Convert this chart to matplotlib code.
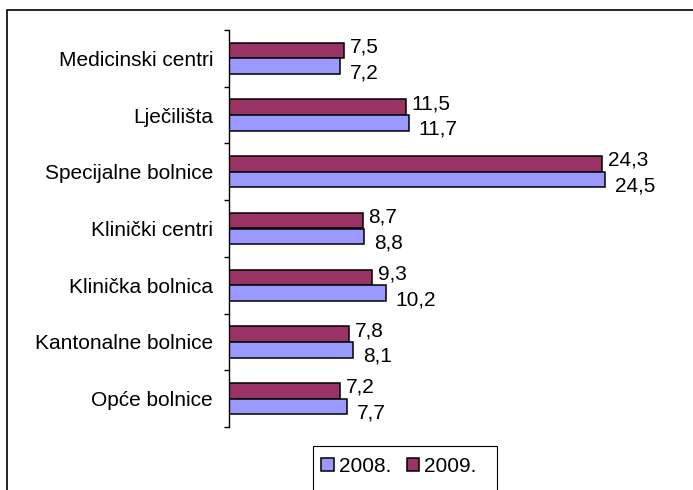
import matplotlib
matplotlib.use("Agg")
import matplotlib.pyplot as plt
from matplotlib.patches import Rectangle
import numpy as np

plt.rcParams['font.family'] = ['Liberation Sans', 'DejaVu Sans']

# Categories listed top to bottom
categories = ["Medicinski centri", "Lječilišta", "Specijalne bolnice",
              "Klinički centri", "Klinička bolnica", "Kantonalne bolnice",
              "Opće bolnice"]
values_2008 = [7.2, 11.7, 24.5, 8.8, 10.2, 8.1, 7.7]
values_2009 = [7.5, 11.5, 24.3, 8.7, 9.3, 7.8, 7.2]
series_labels = ["2008.", "2009."]

color_2008 = "#9999FF"
color_2009 = "#993366"

W, H = 693, 490
fig = plt.figure(figsize=(W / 100, H / 100), dpi=100)

# outer chart frame
fig.patches.append(Rectangle((7 / W, -0.1), 1.2, 1 - 10 / H + 0.1,
                             transform=fig.transFigure, fill=False,
                             edgecolor="black", linewidth=1.2))

ax_left, ax_top, ax_bottom = 229 / W, 1 - 30 / H, 1 - 427 / H
ax = fig.add_axes([ax_left, ax_bottom, 430 / W, ax_top - ax_bottom])
ax.set_facecolor("none")

n = len(categories)
y = np.arange(n)
h = 0.275
ax.barh(y - h / 2, values_2009, height=h, color=color_2009,
        edgecolor="black", linewidth=1.1, label=series_labels[1])
ax.barh(y + h / 2, values_2008, height=h, color=color_2008,
        edgecolor="black", linewidth=1.1, label=series_labels[0])

ax.set_xlim(0, 28)
ax.set_ylim(n - 0.5, -0.5)

fs = 15
fmt = lambda v: f"{v:.1f}".replace(".", ",")
for yi, v in zip(y, values_2009):
    ax.annotate(fmt(v), (v, yi - h / 2), xytext=(6, -2),
                textcoords="offset pixels", ha="left", va="baseline",
                fontsize=fs)
for yi, v in zip(y, values_2008):
    ax.annotate(fmt(v), (v, yi + h / 2), xytext=(10, -12),
                textcoords="offset pixels", ha="left", va="baseline",
                fontsize=fs)

for s in ["top", "right", "bottom"]:
    ax.spines[s].set_visible(False)
ax.spines["left"].set_linewidth(1.0)
ax.set_xticks([])
ax.set_yticks(np.arange(-0.5, n, 1.0))
ax.set_yticklabels([])
ax.tick_params(axis="y", which="major", direction="out", length=3.5, width=1.0)
ax.set_yticks(y, minor=True)
ax.set_yticklabels(categories, minor=True, fontsize=fs)
ax.tick_params(axis="y", which="minor", length=0, pad=11.5)

# legend box and entries
fig.patches.append(Rectangle((313 / W, -0.1), 184 / W, (490 - 446) / H + 0.1,
                             transform=fig.transFigure, fill=False,
                             edgecolor="black", linewidth=0.8))
handles, labels = ax.get_legend_handles_labels()
order = [1, 0]
fig.legend([handles[i] for i in order], [labels[i] for i in order],
           loc="center left", bbox_to_anchor=(321 / W, 1 - 466 / H),
           ncol=2, frameon=False, fontsize=fs, borderpad=0, borderaxespad=0,
           handlelength=0.6, handleheight=0.6, handletextpad=0.25,
           columnspacing=0.75)

fig.savefig("out.png", dpi=100)
